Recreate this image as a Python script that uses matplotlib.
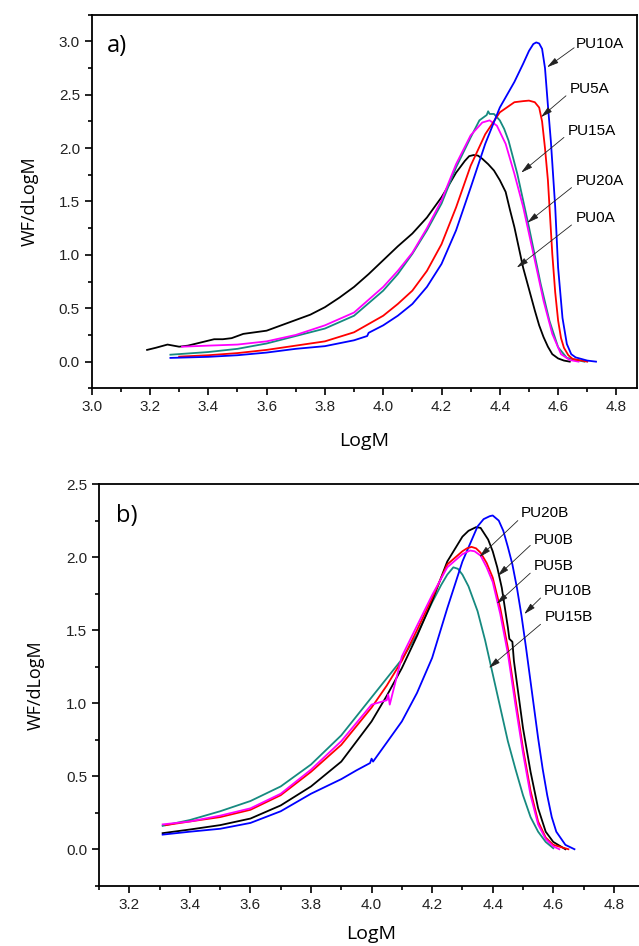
import matplotlib
matplotlib.use("Agg")
import matplotlib.pyplot as plt
from matplotlib.ticker import MultipleLocator, FormatStrFormatter

plt.rcParams['font.family'] = ['Liberation Sans', 'DejaVu Sans']

# ---- panel a) ----
x_pu0a = [3.19, 3.22, 3.26, 3.30, 3.33, 3.36, 3.39, 3.42, 3.45, 3.48, 3.52, 3.56, 3.60, 3.65, 3.70,
          3.75, 3.80, 3.85, 3.90, 3.95, 4.00, 4.05, 4.10, 4.15, 4.20, 4.22, 4.25, 4.28, 4.295, 4.31,
          4.325, 4.34, 4.36, 4.38, 4.40, 4.42, 4.435, 4.45, 4.465, 4.48, 4.50, 4.52, 4.535, 4.55,
          4.565, 4.58, 4.60, 4.62, 4.64]
y_pu0a = [0.11, 0.13, 0.16, 0.14, 0.15, 0.17, 0.19, 0.21, 0.21, 0.22, 0.26, 0.275, 0.29, 0.34, 0.39,
          0.44, 0.51, 0.60, 0.70, 0.82, 0.95, 1.08, 1.20, 1.35, 1.54, 1.63, 1.77, 1.88, 1.925, 1.935,
          1.93, 1.90, 1.85, 1.79, 1.70, 1.59, 1.42, 1.26, 1.07, 0.88, 0.68, 0.48, 0.34, 0.23,
          0.14, 0.07, 0.03, 0.01, 0.0]

x_pu10a = [3.27, 3.40, 3.50, 3.60, 3.70, 3.80, 3.90, 3.945, 3.95, 4.00, 4.05, 4.10, 4.15, 4.20, 4.25,
           4.30, 4.35, 4.40, 4.45, 4.48, 4.50, 4.515, 4.525, 4.535, 4.545, 4.555, 4.565, 4.575, 4.59,
           4.60, 4.615, 4.63, 4.645, 4.66, 4.70, 4.73]
y_pu10a = [0.035, 0.045, 0.06, 0.085, 0.12, 0.145, 0.20, 0.24, 0.27, 0.34, 0.43, 0.54, 0.70, 0.915, 1.23,
           1.63, 2.04, 2.38, 2.62, 2.79, 2.91, 2.975, 2.99, 2.98, 2.93, 2.75, 2.40, 2.07, 1.45,
           0.88, 0.41, 0.165, 0.07, 0.04, 0.01, 0.0]

x_pu5a = [3.30, 3.40, 3.50, 3.60, 3.70, 3.80, 3.90, 4.00, 4.05, 4.10, 4.15, 4.20, 4.25, 4.30, 4.35,
          4.40, 4.45, 4.48, 4.50, 4.52, 4.535, 4.545, 4.555, 4.565, 4.58, 4.59, 4.60, 4.61, 4.62,
          4.635, 4.65, 4.70]
y_pu5a = [0.047, 0.06, 0.08, 0.11, 0.15, 0.19, 0.275, 0.43, 0.54, 0.665, 0.85, 1.10, 1.445, 1.835, 2.13,
          2.335, 2.43, 2.44, 2.445, 2.43, 2.38, 2.25, 2.00, 1.70, 1.01, 0.65, 0.385, 0.22, 0.13,
          0.06, 0.025, 0.0]

x_pu15a = [3.27, 3.40, 3.50, 3.60, 3.70, 3.80, 3.90, 4.00, 4.05, 4.10, 4.15, 4.20, 4.25, 4.30, 4.33,
           4.355, 4.36, 4.365, 4.38, 4.40, 4.415, 4.43, 4.46, 4.50, 4.54, 4.57, 4.60, 4.63, 4.69]
y_pu15a = [0.065, 0.09, 0.12, 0.17, 0.24, 0.31, 0.43, 0.665, 0.82, 1.01, 1.23, 1.48, 1.82, 2.10, 2.26,
           2.31, 2.345, 2.32, 2.32, 2.26, 2.18, 2.07, 1.76, 1.26, 0.73, 0.385, 0.135, 0.035, 0.0]

x_pu20a = [3.31, 3.40, 3.50, 3.60, 3.70, 3.80, 3.90, 4.00, 4.05, 4.10, 4.15, 4.20, 4.25, 4.30, 4.34,
           4.365, 4.39, 4.42, 4.45, 4.48, 4.52, 4.55, 4.58, 4.61, 4.64, 4.67]
y_pu20a = [0.14, 0.15, 0.16, 0.19, 0.25, 0.34, 0.46, 0.70, 0.85, 1.02, 1.25, 1.51, 1.85, 2.12, 2.24,
           2.26, 2.21, 2.04, 1.76, 1.45, 0.95, 0.57, 0.26, 0.07, 0.015, 0.0]

# ---- panel b) ----
x_pu15b = [3.31, 3.40, 3.50, 3.60, 3.70, 3.80, 3.90, 4.00, 4.05, 4.10, 4.15, 4.20, 4.23, 4.25, 4.27,
           4.285, 4.30, 4.32, 4.35, 4.375, 4.40, 4.425, 4.45, 4.475, 4.50, 4.525, 4.55, 4.575, 4.60]
y_pu15b = [0.16, 0.20, 0.26, 0.33, 0.43, 0.58, 0.78, 1.04, 1.17, 1.30, 1.47, 1.69, 1.81, 1.88, 1.93,
           1.92, 1.88, 1.80, 1.63, 1.43, 1.20, 0.97, 0.74, 0.55, 0.37, 0.22, 0.12, 0.05, 0.007]

x_pu0b = [3.31, 3.40, 3.50, 3.60, 3.70, 3.80, 3.90, 4.00, 4.05, 4.10, 4.15, 4.20, 4.25, 4.30, 4.32,
          4.345, 4.36, 4.385, 4.40, 4.415, 4.43, 4.45, 4.455, 4.465, 4.47, 4.485, 4.50, 4.525, 4.55,
          4.575, 4.60, 4.64]
y_pu0b = [0.11, 0.135, 0.165, 0.21, 0.30, 0.43, 0.60, 0.875, 1.05, 1.24, 1.46, 1.70, 1.97, 2.14, 2.18,
          2.205, 2.20, 2.12, 2.04, 1.93, 1.79, 1.52, 1.44, 1.42, 1.29, 1.06, 0.83, 0.53, 0.28,
          0.12, 0.05, 0.0]

x_pu10b = [3.31, 3.40, 3.50, 3.60, 3.70, 3.80, 3.90, 3.95, 3.995, 4.00, 4.005, 4.05, 4.10, 4.15, 4.20,
           4.25, 4.30, 4.35, 4.37, 4.39, 4.40, 4.42, 4.435, 4.45, 4.465, 4.48, 4.495, 4.51, 4.53,
           4.55, 4.565, 4.58, 4.595, 4.61, 4.64, 4.67]
y_pu10b = [0.10, 0.12, 0.14, 0.18, 0.26, 0.38, 0.48, 0.54, 0.59, 0.62, 0.60, 0.73, 0.875, 1.07, 1.31,
           1.65, 1.97, 2.21, 2.26, 2.28, 2.285, 2.25, 2.18, 2.07, 1.95, 1.79, 1.60, 1.38, 1.07,
           0.76, 0.55, 0.37, 0.22, 0.12, 0.03, 0.0]

x_pu5b = [3.32, 3.40, 3.50, 3.60, 3.70, 3.80, 3.90, 4.00, 4.05, 4.10, 4.15, 4.20, 4.25, 4.30, 4.315,
          4.33, 4.345, 4.36, 4.38, 4.40, 4.425, 4.45, 4.475, 4.50, 4.525, 4.55, 4.575, 4.60, 4.65]
y_pu5b = [0.165, 0.19, 0.22, 0.27, 0.37, 0.53, 0.715, 0.97, 1.12, 1.29, 1.50, 1.72, 1.95, 2.04, 2.06,
          2.07, 2.06, 2.03, 1.96, 1.86, 1.65, 1.38, 1.03, 0.69, 0.40, 0.19, 0.08, 0.03, 0.0]

x_pu20b = [3.31, 3.40, 3.50, 3.60, 3.70, 3.80, 3.90, 4.00, 4.05, 4.055, 4.06, 4.10, 4.15, 4.20, 4.25,
           4.30, 4.325, 4.34, 4.36, 4.38, 4.40, 4.425, 4.45, 4.475, 4.50, 4.525, 4.55, 4.575, 4.60, 4.62]
y_pu20b = [0.17, 0.19, 0.23, 0.28, 0.38, 0.545, 0.74, 0.99, 1.02, 1.06, 0.99, 1.32, 1.53, 1.74, 1.93,
           2.02, 2.045, 2.04, 2.01, 1.93, 1.83, 1.61, 1.34, 0.99, 0.66, 0.37, 0.17, 0.07, 0.02, 0.0]

labels_a = ["PU10A", "PU5A", "PU15A", "PU20A", "PU0A"]
text_a = [(4.661, 2.975), (4.64, 2.55), (4.633, 2.16), (4.66, 1.695), (4.66, 1.35)]
tip_a = [(4.562, 2.757), (4.541, 2.29), (4.473, 1.77), (4.494, 1.30), (4.458, 0.88)]
tail_a = [(4.655, 2.94), (4.627, 2.49), (4.62, 2.10), (4.646, 1.63), (4.646, 1.28)]

labels_b = ["PU20B", "PU0B", "PU5B", "PU10B", "PU15B"]
text_b = [(4.494, 2.30), (4.537, 2.12), (4.537, 1.94), (4.568, 1.77), (4.571, 1.59)]
tip_b = [(4.356, 2.00), (4.416, 1.87), (4.413, 1.68), (4.504, 1.61), (4.387, 1.24)]
tail_b = [(4.483, 2.25), (4.524, 2.08), (4.524, 1.89), (4.558, 1.72), (4.558, 1.54)]

BLUE = "#0000ff"
RED = "#ff0000"
MAG = "#ff00ff"
TEAL = "#168a80"
BLK = "#000000"

fig = plt.figure(figsize=(6.39, 9.46), dpi=100)
ax1 = fig.add_axes([0.1435, 0.5895, 0.854, 0.395])
ax2 = fig.add_axes([0.155, 0.0637, 0.853, 0.4246])

lw = 1.3
ax1.plot(x_pu0a, y_pu0a, color=BLK, lw=lw)
ax1.plot(x_pu15a, y_pu15a, color=TEAL, lw=lw)
ax1.plot(x_pu20a, y_pu20a, color=MAG, lw=lw)
ax1.plot(x_pu5a, y_pu5a, color=RED, lw=lw)
ax1.plot(x_pu10a, y_pu10a, color=BLUE, lw=lw)

ax2.plot(x_pu15b, y_pu15b, color=TEAL, lw=lw)
ax2.plot(x_pu0b, y_pu0b, color=BLK, lw=lw)
ax2.plot(x_pu10b, y_pu10b, color=BLUE, lw=lw)
ax2.plot(x_pu5b, y_pu5b, color=RED, lw=lw)
ax2.plot(x_pu20b, y_pu20b, color=MAG, lw=lw)


def style(ax, xlim, ylim):
    ax.set_xlim(*xlim)
    ax.set_ylim(*ylim)
    ax.xaxis.set_major_locator(MultipleLocator(0.2))
    ax.xaxis.set_minor_locator(MultipleLocator(0.1))
    ax.yaxis.set_major_locator(MultipleLocator(0.5))
    ax.yaxis.set_minor_locator(MultipleLocator(0.25))
    ax.xaxis.set_major_formatter(FormatStrFormatter("%.1f"))
    ax.yaxis.set_major_formatter(FormatStrFormatter("%.1f"))
    ax.tick_params(which="major", direction="out", length=5, width=1.2,
                   labelsize=11, labelcolor="#222222", right=False, top=False)
    ax.tick_params(which="minor", direction="out", length=3, width=1.2, right=False, top=False)
    for s in ax.spines.values():
        s.set_linewidth(1.3)
    ax.set_xlabel("LogM", family="Open Sans", fontsize=14)
    ax.set_ylabel("WF/dLogM", family="Open Sans", fontsize=13)


style(ax1, (3.0, 4.872), (-0.25, 3.25))
style(ax2, (3.1, 4.9), (-0.25, 2.5))
ax1.xaxis.labelpad = 13
ax2.xaxis.labelpad = 10
ax1.yaxis.set_label_coords(-0.097, 0.5)
ax2.yaxis.set_label_coords(-0.1, 0.5)

ax1.text(3.053, 2.96, "a)", fontsize=17, family="Open Sans", va="center")
ax2.text(3.157, 2.28, "b)", fontsize=17, family="Open Sans", va="center")


def annotate(ax, labels, txt, tip, tail):
    for lab, t, p, q in zip(labels, txt, tip, tail):
        ax.text(t[0], t[1], lab, fontsize=11, va="center", ha="left")
        ax.annotate("", xy=p, xytext=q,
                    arrowprops=dict(arrowstyle="-|>,head_length=0.7,head_width=0.18",
                                    color="#222222", lw=0.6, shrinkA=0, shrinkB=0))


annotate(ax1, labels_a, text_a, tip_a, tail_a)
annotate(ax2, labels_b, text_b, tip_b, tail_b)

fig.savefig("out.png", dpi=100)
